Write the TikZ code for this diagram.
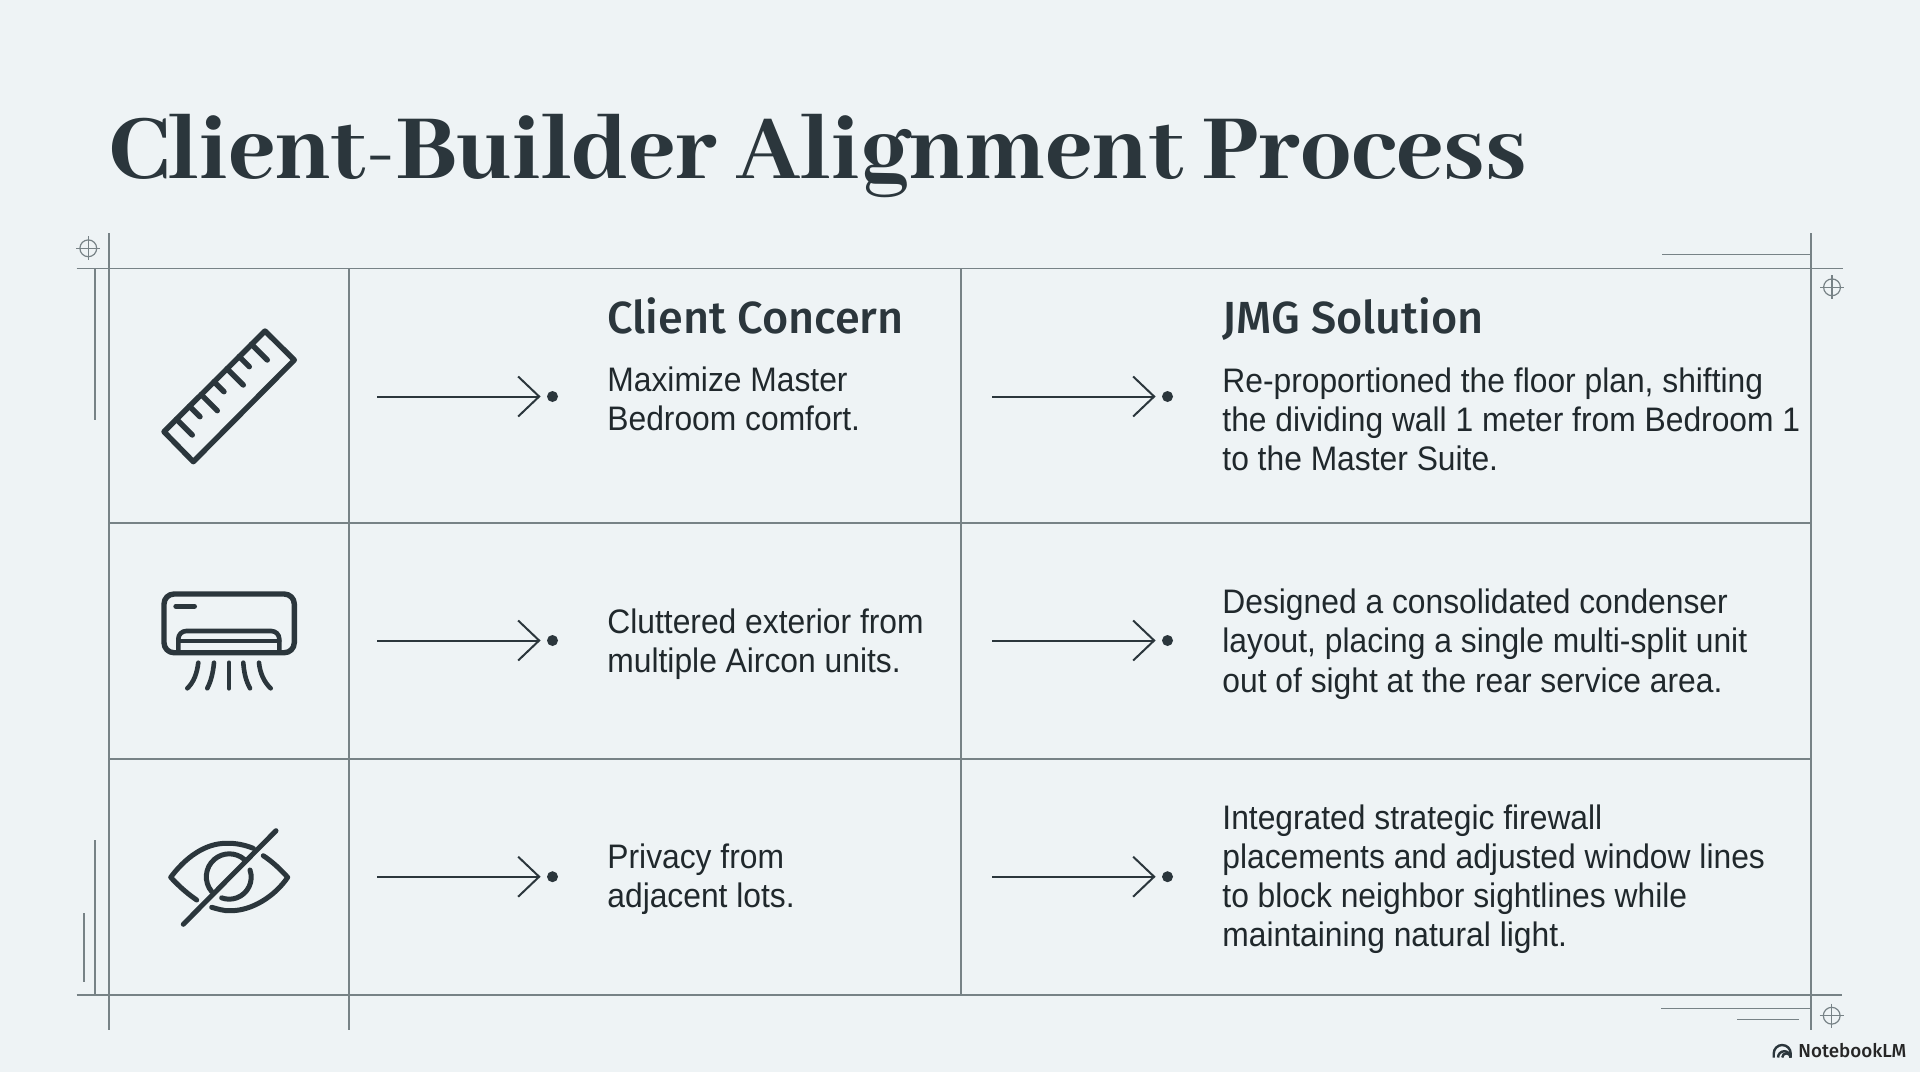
\documentclass[tikz,border=0pt]{standalone}
\usepackage{fontspec}
\usetikzlibrary{arrows.meta}
\setmainfont[FakeStretch=0.935]{Liberation Sans}
\newfontfamily\titlefont{Abhaya Libre ExtraBold}
\newfontfamily\headfont{Fira Sans Medium}
\newfontfamily\brandfont{Fira Sans Medium}
\definecolor{paper}{HTML}{EEF3F5}
\definecolor{rule}{HTML}{778286}
\definecolor{ink}{HTML}{2B363C}
\definecolor{bodyink}{HTML}{20282C}
\tikzset{
  gridline/.style={draw=rule, line width=0.7pt},
  thinline/.style={draw=rule, line width=0.6pt},
  iconline/.style={draw=ink, line width=2.7pt, line cap=round, line join=round},
  bodytxt/.style={anchor=west, align=left, inner sep=0pt, text=bodyink, text depth=3.5pt,
    font=\fontsize{17}{19.6}\selectfont},
  headtxt/.style={anchor=base west, inner sep=0pt, text=ink,
    font=\headfont\fontsize{22.5}{26}\selectfont},
  enddot/.style={circle, fill=ink, minimum size=5.5pt, inner sep=0pt, outer sep=3.2pt},
  flow/.style={draw=ink, line width=1pt, -{Straight Barb[length=10.5pt, width=20pt, line width=1pt]}},
  crossmark/.pic={
    \draw[thinline] (0, 0) circle (4.2pt);
    \draw[thinline] (-12, 0) -- (12, 0);
    \draw[thinline] (0, -12) -- (0, 12);
  }
}
\begin{document}
\begin{tikzpicture}[x=0.5pt, y=-0.5pt]
  \fill[paper] (0, 0) rectangle (1920, 1072);
  \useasboundingbox (0, 0) rectangle (1920, 1072);

  \node[anchor=base west, inner sep=0pt, text=ink, font=\titlefont\fontsize{50.6}{60}\selectfont] (title) at (109, 178) {Client-Builder Alignment Process};

  % table
  \draw[gridline] (76.7, 268.3) -- (1842.7, 268.3);
  \draw[gridline] (109, 523) -- (1811, 523);
  \draw[gridline] (109, 759) -- (1811, 759);
  \draw[gridline] (76.7, 995) -- (1842, 995);
  \draw[gridline] (109, 233) -- (109, 1030);
  \draw[gridline] (349, 268.3) -- (349, 1030);
  \draw[gridline] (961, 268.3) -- (961, 995);
  \draw[gridline] (1811, 233) -- (1811, 1030);

  % drafting marks
  \draw[thinline] (95, 268.3) -- (95, 420);
  \draw[thinline] (95, 840) -- (95, 995);
  \draw[thinline] (84, 913) -- (84, 982);
  \draw[thinline] (1662, 254.3) -- (1811, 254.3);
  \draw[thinline] (1661, 1008.3) -- (1811, 1008.3);
  \draw[thinline] (1737, 1019.3) -- (1799, 1019.3);
  \pic at (88.3, 248.3) {crossmark};
  \pic at (1832, 287.3) {crossmark};
  \pic at (1831.7, 1015.7) {crossmark};

  % ruler
  \draw[iconline] (265, 331) -- (294.3, 360) -- (193.3, 461.7) -- (164, 431.7) -- cycle;
  \draw[iconline] (176.5, 419.2) -- (192.3, 435);
  \draw[iconline] (189.5, 406.2) -- (200, 416.7);
  \draw[iconline] (201.2, 394.5) -- (217.3, 410.7);
  \draw[iconline] (214, 381.7) -- (224, 391.7);
  \draw[iconline] (227, 368.7) -- (243.3, 385);
  \draw[iconline] (239.2, 356.5) -- (249.3, 366.7);
  \draw[iconline] (251.5, 344.2) -- (267.3, 360);

  % aircon
  \draw[iconline, rounded corners=5pt] (164, 594) rectangle (294.3, 652.7);
  \draw[iconline] (176, 606.3) -- (194.3, 606.3);
  \draw[iconline, line width=2.3pt, rounded corners=4pt] (178.3, 652) -- (178.3, 631) -- (279.3, 631) -- (279.3, 652);
  \draw[iconline, line width=2.3pt] (178.3, 641) -- (279.3, 641);
  \draw[iconline, line width=2.3pt] (198.3, 662.7) .. controls (197, 673) and (194, 682) .. (187.3, 688.3);
  \draw[iconline, line width=2.3pt] (214, 662.7) .. controls (213, 673) and (211, 681) .. (207.3, 688.3);
  \draw[iconline, line width=2.3pt] (229, 662.7) -- (229, 688.3);
  \draw[iconline, line width=2.3pt] (243.3, 662.7) .. controls (244, 673) and (246, 681) .. (250, 688.3);
  \draw[iconline, line width=2.3pt] (259, 662.7) .. controls (260, 673) and (264, 682) .. (270.7, 688.3);

  % eye
  \draw[iconline, line width=2.5pt] (196.7, 900) .. controls (185, 892) and (177, 884) .. (170.7, 877.3) .. controls (185, 858) and (205, 843) .. (226.7, 843.3) .. controls (236, 843) and (245, 845) .. (253.3, 848.3);
  \draw[iconline, line width=2.5pt] (263.3, 855.7) .. controls (273, 862) and (281, 870) .. (287.7, 877.3) .. controls (275, 896) and (252, 911) .. (230, 910.7) .. controls (224, 911) and (218, 909) .. (211.7, 907.3);
  \draw[iconline, line width=2.5pt] (211.7, 891.6) arc[start angle=220, end angle=50, radius=11.5pt];
  \draw[iconline, line width=2.5pt] (250, 870) arc[start angle=19, end angle=-110, radius=11pt];
  \draw[iconline, line width=2.5pt] (183.3, 924.3) -- (276, 830.7);

  % first row
  \node[headtxt] (hconcern) at (607, 333) {Client Concern};
  \node[headtxt] (hsolution) at (1222, 333) {JMG Solution};
  \node[bodytxt] (c1) at (607, 402.5) {Maximize Master\\Bedroom comfort.};
  \node[bodytxt] (s1) at (1222, 422.5) {Re-proportioned the floor plan, shifting\\the dividing wall 1 meter from Bedroom 1\\to the Master Suite.};
  \coordinate (a1) at (377, 396.5);
  \node[enddot] (d1) at (552.5, 396.5) {};
  \coordinate (b1) at (992, 396.5);
  \node[enddot] (e1) at (1167.5, 396.5) {};
  \draw[flow] (a1) to (d1);
  \draw[flow] (b1) to (e1);

  % second row
  \node[bodytxt] (c2) at (607, 644) {Cluttered exterior from\\multiple Aircon units.};
  \node[bodytxt] (s2) at (1222, 644) {Designed a consolidated condenser\\layout, placing a single multi-split unit\\out of sight at the rear service area.};
  \coordinate (a2) at (377, 640.5);
  \node[enddot] (d2) at (552.5, 640.5) {};
  \coordinate (b2) at (992, 640.5);
  \node[enddot] (e2) at (1167.5, 640.5) {};
  \draw[flow] (a2) to (d2);
  \draw[flow] (b2) to (e2);

  % third row
  \node[bodytxt] (c3) at (607, 879) {Privacy from\\adjacent lots.};
  \node[bodytxt] (s3) at (1222, 879) {Integrated strategic firewall\\placements and adjusted window lines\\to block neighbor sightlines while\\maintaining natural light.};
  \coordinate (a3) at (377, 876.7);
  \node[enddot] (d3) at (552.5, 876.7) {};
  \coordinate (b3) at (992, 876.7);
  \node[enddot] (e3) at (1167.5, 876.7) {};
  \draw[flow] (a3) to (d3);
  \draw[flow] (b3) to (e3);

  % logo
  \draw[draw=ink, line width=1.2pt] (1773.7, 1057.5) -- (1773.7, 1053.5) arc[start angle=180, end angle=0, radius=4.25pt] -- (1790.7, 1057.5);
  \draw[draw=ink, line width=1.2pt] (1778, 1057.5) arc[start angle=180, end angle=0, radius=3.15pt];
  \draw[draw=ink, line width=1.2pt] (1782.2, 1057.5) arc[start angle=180, end angle=0, radius=2.1pt];
  \node[anchor=base west, inner sep=0pt, text=black!85, font=\brandfont\fontsize{9.4}{12}\selectfont] (brand) at (1798, 1057) {NotebookLM};
\end{tikzpicture}
\end{document}
